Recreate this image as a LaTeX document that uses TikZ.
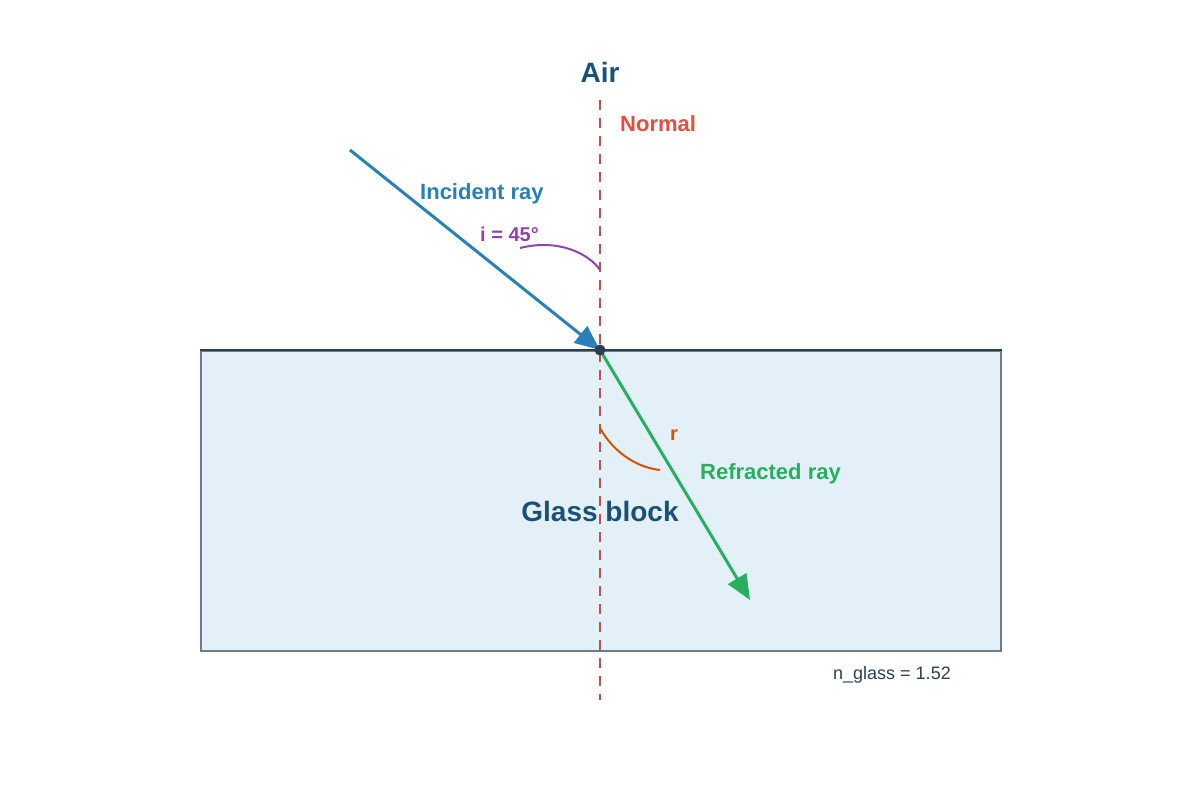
\documentclass[tikz,border=0pt]{standalone}
\usepackage{fontspec}
\setmainfont{Liberation Sans}
\usetikzlibrary{arrows.meta}
\definecolor{titleblue}{HTML}{1A5276}
\definecolor{normalred}{HTML}{E74C3C}
\definecolor{dashred}{HTML}{C0504D}
\definecolor{rayblue}{HTML}{2980B9}
\definecolor{raygreen}{HTML}{27AE60}
\definecolor{anglepurple}{HTML}{8E44AD}
\definecolor{angleorange}{HTML}{D35400}
\definecolor{glassfill}{HTML}{E4F0F7}
\definecolor{glassedge}{HTML}{6C7A89}
\definecolor{darkslate}{HTML}{2C3E50}
\tikzset{
  lbl/.style={inner sep=0pt, font=\bfseries},
  ray/.style={line width=3pt, -{Triangle[length=25pt,width=21pt]}},
  anglearc/.style={line width=2pt},
}
\newcommand{\fs}[1]{\fontsize{#1}{#1}\selectfont}
\begin{document}
\begin{tikzpicture}[x=1pt,y=-1pt]
\useasboundingbox (0,0) rectangle (1200,800);
% glass block
\node[draw=glassedge, line width=1.5pt, fill=glassfill, minimum width=800pt, minimum height=300pt, inner sep=0pt, anchor=north west] (glass) at (200,350) {};
\draw[darkslate, line width=2pt] (glass.north west) -- (glass.north east);
% normal
\coordinate (ntop) at (600,100);
\coordinate (nbot) at (600,700);
\draw[dashred, line width=2pt, dash pattern=on 10pt off 8pt] (ntop) -- (nbot);
% rays
\coordinate (src) at (350,150);
\coordinate (hit) at (600,350);
\coordinate (dst) at (750,600);
\draw[ray, rayblue] (src) -- (hit);
\draw[ray, raygreen] (hit) -- (dst);
\fill[darkslate] (hit) circle (5.5pt);
% angle arcs
\coordinate (ia) at (520,248);
\coordinate (ib) at (600,270);
\draw[anglearc, anglepurple] (ia) .. controls (560,238) and (590,255) .. (ib);
\coordinate (ra) at (600,428);
\coordinate (rb) at (660,470);
\draw[anglearc, angleorange] (ra) .. controls (615,455) and (640,468) .. (rb);
% labels
\node[lbl, titleblue, font=\bfseries\fs{28}] (air) at (600,72) {Air};
\node[lbl, normalred, font=\bfseries\fs{22}, anchor=west] (normal) at (620,124) {Normal};
\node[lbl, rayblue, font=\bfseries\fs{22}, anchor=west] (inc) at (420,194) {Incident ray};
\node[lbl, anglepurple, font=\bfseries\fs{20}, anchor=west] (ilbl) at (480,234) {i = 45°};
\node[lbl, angleorange, font=\bfseries\fs{20}, anchor=west] (rlbl) at (670,435) {r};
\node[lbl, raygreen, font=\bfseries\fs{22}, anchor=west] (refr) at (700,474) {Refracted ray};
\node[lbl, titleblue, font=\bfseries\fs{28}] (glbl) at (600,511) {Glass block};
\node[inner sep=0pt, text=darkslate, font=\fs{18}, anchor=west] (nglass) at (833,675) {n\_glass = 1.52};
\end{tikzpicture}
\end{document}
